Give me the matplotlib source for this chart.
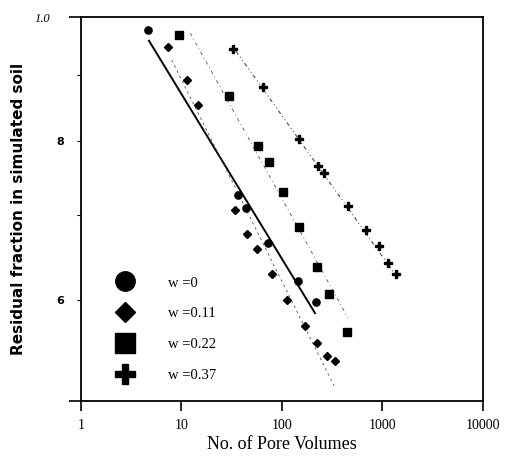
import matplotlib.pyplot as plt
from matplotlib.lines import Line2D
from matplotlib.ticker import NullFormatter, FixedLocator, FixedFormatter

# measured points (pore volumes, residual fraction)
w0_x = [4.6, 36.5, 43.8, 72.5, 144, 218]
w0_y = [0.977, 0.725, 0.708, 0.665, 0.621, 0.598]

w011_x = [7.3, 11.3, 14.6, 34.0, 44.9, 56.4, 79.6, 112, 169, 223, 281, 337]
w011_y = [0.947, 0.893, 0.853, 0.706, 0.676, 0.658, 0.629, 0.600, 0.572, 0.555, 0.542, 0.537]

w022_x = [9.45, 29.4, 57.7, 74.3, 102, 147, 223, 294, 443]
w022_y = [0.968, 0.867, 0.792, 0.770, 0.729, 0.684, 0.637, 0.607, 0.566]

w037_x = [32.5, 64.7, 148, 228, 262, 454, 686, 923, 1135, 1360]
w037_y = [0.944, 0.881, 0.802, 0.764, 0.755, 0.711, 0.681, 0.661, 0.642, 0.629]

# fitted lines (end points)
fit0_x, fit0_y = [4.75, 213], [0.958, 0.586]
fit011_x, fit011_y = [8.0, 329], [0.925, 0.514]
fit022_x, fit022_y = [12.2, 454], [0.9715, 0.581]
fit037_x, fit037_y = [34.9, 1426], [0.940, 0.624]

labels = ['w =0', 'w =0.11', 'w =0.22', 'w =0.37']

fig = plt.figure(figsize=(5.05, 4.57), dpi=100)
ax = fig.add_axes([0.1604, 0.1225, 0.796, 0.8403])
ax.set_xscale('log')
ax.set_yscale('log')

ax.plot(fit0_x, fit0_y, color='black', lw=1.4)
ax.plot(fit011_x, fit011_y, color='0.3', lw=0.6, dashes=(3, 4))
ax.plot(fit022_x, fit022_y, color='0.3', lw=0.6, dashes=(4, 4, 1, 4))
ax.plot(fit037_x, fit037_y, color='0.2', lw=0.7, dashes=(4, 3, 1, 3, 1, 3))

ms = 5.2
ax.plot(w0_x, w0_y, 'o', color='black', ms=ms)
ax.plot(w011_x, w011_y, 'D', color='black', ms=ms * 0.8)
ax.plot(w022_x, w022_y, 's', color='black', ms=ms)
ax.plot(w037_x, w037_y, 'P', color='black', ms=ms)

ax.set_xlim(1, 10000)
ax.set_ylim(0.5, 1.0)

ax.xaxis.set_major_locator(FixedLocator([1, 10, 100, 1000, 10000]))
ax.xaxis.set_major_formatter(FixedFormatter(['1', '10', '100', '1000', '10000']))
ax.xaxis.set_minor_formatter(NullFormatter())
ax.xaxis.set_minor_locator(FixedLocator([]))
ax.tick_params(axis='x', which='major', direction='out', length=7, width=1.2, pad=6)

ax.yaxis.set_major_locator(FixedLocator([0.5, 1.0]))
ax.yaxis.set_major_formatter(FixedFormatter(['', '1.0']))
ax.yaxis.set_minor_locator(FixedLocator([0.6, 0.7, 0.8, 0.9]))
ax.yaxis.set_minor_formatter(FixedFormatter(['6', '', '8', '']))
ax.tick_params(axis='y', which='major', direction='out', length=9, width=1.2, pad=13)
ax.tick_params(axis='y', which='minor', direction='out', length=3, width=0.8, pad=9)

for lab in ax.get_xticklabels():
    lab.set_fontfamily('Liberation Serif')
    lab.set_fontsize(10)
for lab in ax.get_yticklabels(which='major'):
    lab.set_fontfamily('Liberation Serif')
    lab.set_fontstyle('italic')
    lab.set_fontsize(9)
for lab in ax.get_yticklabels(which='minor'):
    lab.set_fontfamily('DejaVu Sans')
    lab.set_fontweight('bold')
    lab.set_fontsize(8)

for s in ax.spines.values():
    s.set_linewidth(1.3)

ax.set_xlabel('No. of Pore Volumes', fontfamily='Liberation Serif', fontsize=13, labelpad=3)
ax.set_ylabel('Residual fraction in simulated soil', fontfamily='DejaVu Sans',
              fontweight='bold', fontsize=11)
ax.yaxis.set_label_coords(-0.138, 0.5)

handles = [
    Line2D([], [], ls='none', marker='o', color='black', ms=14),
    Line2D([], [], ls='none', marker='D', color='black', ms=10),
    Line2D([], [], ls='none', marker='s', color='black', ms=14),
    Line2D([], [], ls='none', marker='P', color='black', ms=14),
]
ax.legend(handles, labels, loc='lower left', bbox_to_anchor=(0.045, 0.02),
          frameon=False, prop={'family': 'Liberation Serif', 'size': 10.5},
          labelspacing=1.2, handletextpad=1.9, borderpad=0.3)

fig.savefig('out.png', dpi=100)
